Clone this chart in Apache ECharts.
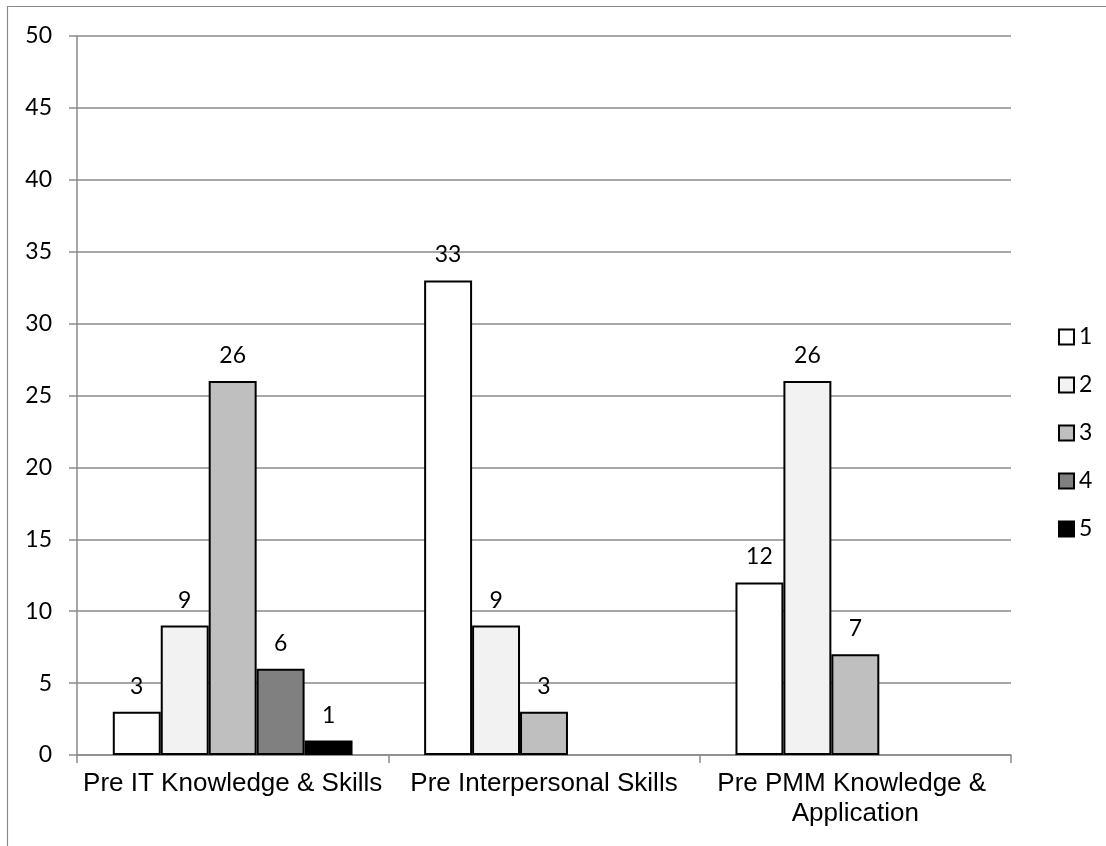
<!DOCTYPE html>
<html>
<head>
<meta charset="utf-8">
<script src="https://cdn.jsdelivr.net/npm/echarts@6/dist/echarts.min.js"></script>
<style>
  html, body { margin: 0; padding: 0; background: #fff; }
  #chart { width: 1106px; height: 846px; }
</style>
</head>
<body>
<div id="chart"></div>
<script>
const categories = ['Pre IT Knowledge & Skills', 'Pre Interpersonal Skills', 'Pre PMM Knowledge & Application'];
const seriesNames = ['1', '2', '3', '4', '5'];
const values1 = [3, 33, 12];
const values2 = [9, 9, 26];
const values3 = [26, 3, 7];
const values4 = [6, null, null];
const values5 = [1, null, null];
const yTicks = [0, 5, 10, 15, 20, 25, 30, 35, 40, 45, 50];

const allValues = [values1, values2, values3, values4, values5];
const fills = ['#ffffff', '#f2f2f2', '#bfbfbf', '#808080', '#000000'];
const numFont = 'Lato, "Open Sans", sans-serif';
const catFont = '"Liberation Sans", Arial, sans-serif';

const chart = echarts.init(document.getElementById('chart'));
chart.setOption({
  animation: false,
  backgroundColor: '#ffffff',
  graphic: [{
    type: 'rect',
    shape: { x: 7.5, y: 6.5, width: 1120, height: 860 },
    style: { fill: 'none', stroke: '#8a8a8a', lineWidth: 1.2 },
    silent: true
  }],
  grid: { left: 77, right: 95, top: 36, bottom: 91, containLabel: false },
  legend: {
    orient: 'vertical',
    left: 1053,
    top: 320,
    itemWidth: 15,
    itemHeight: 15,
    itemGap: 24,
    icon: 'rect',
    data: seriesNames,
    textStyle: { fontFamily: numFont, fontSize: 23, color: '#000', lineHeight: 24 }
  },
  xAxis: {
    type: 'category',
    data: categories,
    axisLine: { lineStyle: { color: '#8a8a8a', width: 1.5 } },
    axisTick: { show: true, length: 8, lineStyle: { color: '#8a8a8a', width: 1.5 } },
    axisLabel: {
      fontFamily: catFont, fontSize: 26, color: '#000', margin: 14,
      width: 310, overflow: 'break', lineHeight: 30, interval: 0
    },
    splitLine: { show: false }
  },
  yAxis: {
    type: 'value',
    min: yTicks[0],
    max: yTicks[yTicks.length - 1],
    interval: yTicks[1] - yTicks[0],
    axisLine: { show: true, lineStyle: { color: '#8a8a8a', width: 1.5 } },
    axisTick: { show: true, length: 8, lineStyle: { color: '#8a8a8a', width: 1.5 } },
    axisLabel: { fontFamily: numFont, fontSize: 23, color: '#000', margin: 25 },
    splitLine: { lineStyle: { color: '#8a8a8a', width: 1.5 } }
  },
  series: seriesNames.map((name, i) => ({
    name: name,
    type: 'bar',
    data: allValues[i],
    barGap: '0%',
    barCategoryGap: '23%',
    itemStyle: { color: fills[i], borderColor: '#000', borderWidth: 2 },
    label: {
      show: true, position: 'top', distance: 14,
      fontFamily: numFont, fontSize: 23, color: '#000'
    }
  }))
});
</script>
</body>
</html>
